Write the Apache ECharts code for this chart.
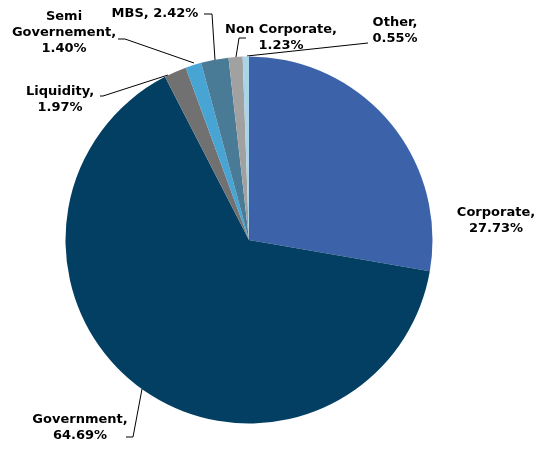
<!DOCTYPE html>
<html><head><meta charset="utf-8">
<script src="https://cdn.jsdelivr.net/npm/echarts@6/dist/echarts.min.js"></script>
<style>html,body{margin:0;padding:0;background:#fff}#c{width:536px;height:449px}</style>
</head><body><div id="c"></div>
<script>
const categories = ["Corporate", "Government", "Liquidity", "Semi Governement", "MBS", "Non Corporate", "Other"];
const values = [27.73, 64.69, 1.97, 1.40, 2.42, 1.23, 0.55];
const colors = ["#3C63AA", "#023F62", "#717171", "#48A4D3", "#497B96", "#A1A1A1", "#A9D4EA"];
const labelTexts = ["Corporate,\n27.73%", "Government,\n64.69%", "Liquidity,\n1.97%", "Semi\nGovernement,\n1.40%", "MBS, 2.42%", "Non Corporate,\n1.23%", "Other,\n0.55%"];

const layouts = [
  {x: 496, y: 221, lines: null},
  {x: 80, y: 428, lines: [[142, 389], [133, 437], [126, 437]]},
  {x: 60, y: 100, lines: [[168, 75], [103, 96], [100, 96]]},
  {x: 64, y: 33, lines: [[194, 63], [125, 39], [118, 39]]},
  {x: 155, y: 14, lines: [[215, 60], [212, 14], [204, 14]]},
  {x: 281, y: 38, lines: [[236, 57], [239, 38], [246, 38]]},
  {x: 395, y: 31, lines: [[247, 56], [368, 43], [368, 43]]}
];

const chart = echarts.init(document.getElementById('c'), null, {renderer: 'canvas'});
chart.setOption({
  animation: false,
  backgroundColor: '#fff',
  series: [{
    type: 'pie',
    center: [249, 240],
    radius: 183.5,
    startAngle: 90,
    clockwise: true,
    avoidLabelOverlap: false,
    itemStyle: {borderWidth: 0, borderColor: 'transparent'},
    data: categories.map((n, i) => ({name: n, value: values[i], itemStyle: {color: colors[i]}})),
    label: {
      show: true,
      formatter: p => labelTexts[p.dataIndex],
      fontFamily: 'DejaVu Sans',
      fontWeight: 'bold',
      fontSize: 13,
      lineHeight: 16,
      color: '#000',
      align: 'center'
    },
    labelLine: {show: true, lineStyle: {color: '#000', width: 1}, length: 10, length2: 10},
    labelLayout: function (params) {
      const L = layouts[params.dataIndex];
      const o = {x: L.x, y: L.y, align: 'center', verticalAlign: 'middle'};
      if (L.lines) o.labelLinePoints = L.lines; else o.labelLinePoints = [[0,0],[0,0],[0,0]];
      return o;
    }
  }]
});
</script></body></html>
